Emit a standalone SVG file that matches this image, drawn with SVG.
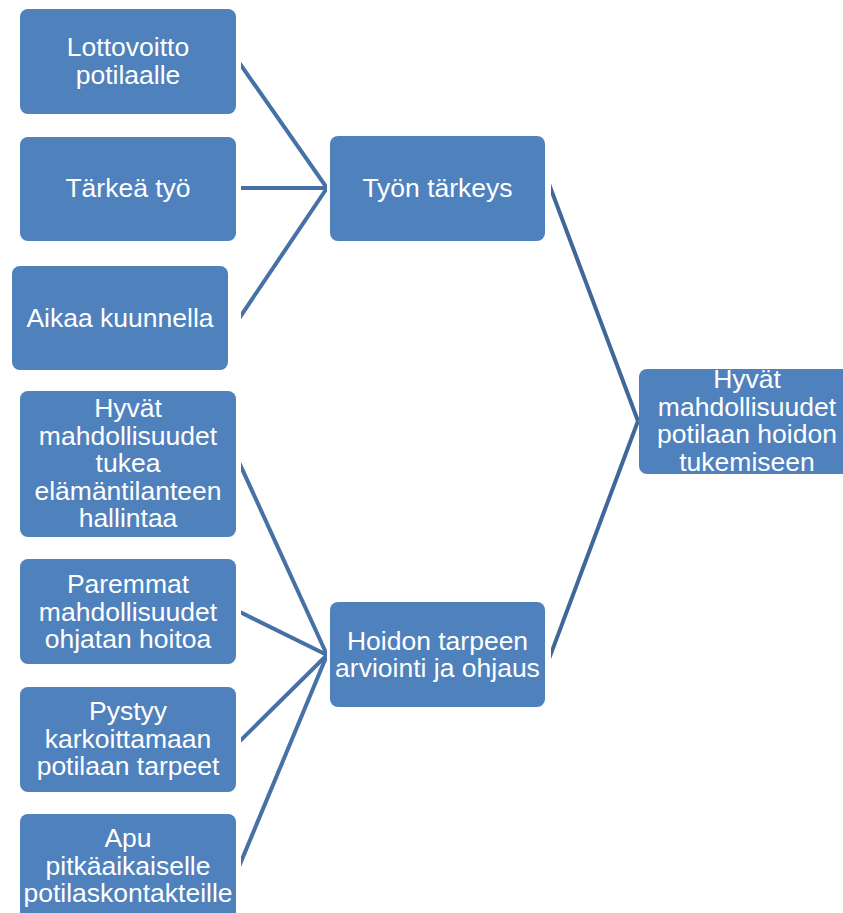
<svg xmlns="http://www.w3.org/2000/svg" width="843" height="913" viewBox="0 0 843 913">
<style>
.box{fill:#4f81bd;}
.t{font-family:"Liberation Sans",Arial,sans-serif;font-size:26.5px;fill:#fff;text-anchor:middle;}
.c{stroke:#4671a6;stroke-width:4;fill:none;}
.c2{stroke:#3f6899;stroke-width:4;fill:none;}
</style>
<defs>
<clipPath id="cl"><rect x="241" y="0" width="86" height="913"/></clipPath>
<clipPath id="cr"><rect x="551" y="0" width="88" height="913"/></clipPath>
</defs>
<rect width="843" height="913" fill="#fff"/>
<g id="connectors">
<g clip-path="url(#cl)">
<line class="c" x1="238" y1="61" x2="327" y2="188"/>
<line class="c" x1="238" y1="188" x2="327" y2="188"/>
<line class="c" x1="238" y1="320" x2="327" y2="188"/>
<line class="c" x1="238" y1="460" x2="327" y2="655"/>
<line class="c" x1="238" y1="611" x2="327" y2="655"/>
<line class="c" x1="238" y1="743" x2="327" y2="655"/>
<line class="c" x1="238" y1="869" x2="327" y2="655"/>
</g>
<g clip-path="url(#cr)">
<line class="c2" x1="549" y1="184" x2="638" y2="421"/>
<line class="c2" x1="549" y1="659" x2="638" y2="421"/>
</g>
</g>
<g id="n1"><rect class="box" x="20" y="9" width="216" height="105" rx="8"/><text class="t" x="128" y="56">Lottovoitto</text><text class="t" x="128" y="83.5">potilaalle</text></g>
<g id="n2"><rect class="box" x="20" y="137" width="216" height="104" rx="8"/><text class="t" x="128" y="197">Tärkeä työ</text></g>
<g id="n3"><rect class="box" x="12" y="266" width="216" height="104" rx="8"/><text class="t" x="120" y="327">Aikaa kuunnella</text></g>
<g id="n4"><rect class="box" x="20" y="391" width="216" height="146" rx="8"/><text class="t" x="128" y="417">Hyvät</text><text class="t" x="128" y="444.5">mahdollisuudet</text><text class="t" x="128" y="472">tukea</text><text class="t" x="128" y="499.5">elämäntilanteen</text><text class="t" x="128" y="527">hallintaa</text></g>
<g id="n5"><rect class="box" x="20" y="559" width="216" height="105" rx="8"/><text class="t" x="128" y="593">Paremmat</text><text class="t" x="128" y="620.5">mahdollisuudet</text><text class="t" x="128" y="648">ohjatan hoitoa</text></g>
<g id="n6"><rect class="box" x="20" y="687" width="216" height="105" rx="8"/><text class="t" x="128" y="720">Pystyy</text><text class="t" x="128" y="747.5">karkoittamaan</text><text class="t" x="128" y="775">potilaan tarpeet</text></g>
<g id="n7"><rect class="box" x="20" y="814" width="216" height="110" rx="8"/><text class="t" x="128" y="847">Apu</text><text class="t" x="128" y="874.5">pitkäaikaiselle</text><text class="t" x="128" y="902">potilaskontakteille</text></g>
<g id="n8"><rect class="box" x="330" y="136" width="215" height="105" rx="8"/><text class="t" x="437.5" y="197">Työn tärkeys</text></g>
<g id="n9"><rect class="box" x="330" y="602" width="215" height="105" rx="8"/><text class="t" x="437.5" y="650">Hoidon tarpeen</text><text class="t" x="437.5" y="677">arviointi ja ohjaus</text></g>
<g id="n10"><rect class="box" x="639" y="369" width="216" height="105" rx="8"/><text class="t" x="747" y="388">Hyvät</text><text class="t" x="747" y="415.5">mahdollisuudet</text><text class="t" x="747" y="443">potilaan hoidon</text><text class="t" x="747" y="470.5">tukemiseen</text></g>
</svg>
